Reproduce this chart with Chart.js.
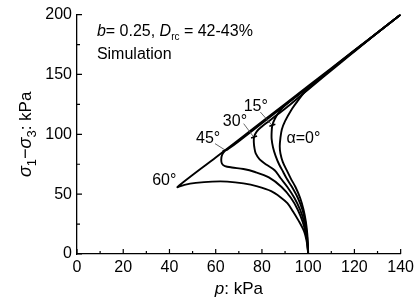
<!DOCTYPE html>
<html>
<head>
<meta charset="utf-8">
<script src="https://cdn.jsdelivr.net/npm/chart.js@4/dist/chart.umd.min.js"></script>
<style>
  html, body { margin: 0; padding: 0; background: #fff; }
  #caixa { width: 418px; height: 307px; }
</style>
</head>
<body>
<div id="caixa"><canvas id="grafico"></canvas></div>
<script>
// ticks dos eixos
const pTicks = [0, 20, 40, 60, 80, 100, 120, 140];
const pMinor = [10, 30, 50, 70, 90, 110, 130];
const qTicks = [0, 50, 100, 150, 200];
const qMinor = [25, 75, 125, 175];

// caminhos de tensão (p, q), um par de arrays por alpha
const p0 = [100, 99.9, 99.6, 99.0, 98.0, 96.5, 94.5, 92.5, 90.7, 89.0, 88.0, 87.7, 88.0, 88.6, 90.0, 92.9, 95.5, 98.6, 103, 108, 113, 126.5, 140];
const q0 = [0, 8, 17, 27, 37, 47, 56, 63, 70, 77, 84, 90, 97, 104, 111, 121, 128, 135.5, 143, 151, 159.3, 179.7, 200];

const p15 = [100, 99.8, 99.4, 98.7, 97.5, 95.5, 93.0, 90.7, 89.2, 87.4, 85.9, 84.8, 84.2, 84.2, 84.5, 85.6, 87.5, 90.5, 95.0, 100, 106, 113, 126.5, 140];
const q15 = [0, 8, 17, 27, 37, 47, 56, 63, 68.5, 75, 82, 89, 96, 102, 107.5, 113, 119, 125, 132, 139, 148.5, 159, 179.6, 200];

const p30 = [100, 99.7, 99.2, 98.2, 96.5, 94.0, 91.0, 88.0, 85.5, 82.0, 79.0, 77.3, 76.8, 76.5, 76.6, 77.8, 80.0, 83.0, 87.0, 92.0, 100, 113, 126.5, 140];
const q30 = [0, 8, 17, 27, 37, 47, 56, 63.5, 70, 74.5, 79, 84, 88, 93, 97.8, 102.5, 106.5, 111, 117, 124.5, 137.5, 158, 179.5, 200];

const p45 = [100, 99.7, 99.0, 97.6, 95.5, 92.5, 88.5, 83.0, 77.0, 72.0, 67.0, 64.0, 62.7, 62.4, 62.8, 64.0, 66.0, 70.0, 80.0, 100, 120, 140];
const q45 = [0, 8, 17, 27, 37, 47, 56, 64, 68.5, 71, 72.3, 73.5, 75.5, 79, 83, 86.2, 88.6, 94.3, 109.3, 139.3, 169.5, 200];

const p60 = [100, 99.5, 98.2, 95.7, 93.3, 91.0, 88.0, 84.0, 78.0, 72.0, 65.0, 58.5, 51.4, 46.5, 43.5, 60, 80, 100, 120, 140];
const q60 = [0, 9, 19, 28.3, 36, 42.5, 47.5, 52.5, 56.5, 59, 60.5, 60.5, 59.4, 57.8, 56, 80.6, 110.4, 140.3, 170.2, 200];

const curvas = [[p0, q0], [p15, q15], [p30, q30], [p45, q45], [p60, q60]];

const fonte = 'Liberation Sans, Arial, sans-serif';

function juntar(ps, qs) {
  return ps.map((p, i) => ({ x: p, y: qs[i] }));
}

// escreve texto com partes em estilos diferentes (itálico, subscrito)
function textoMisto(ctx, partes, x, y) {
  let cx = x;
  partes.forEach(pt => {
    ctx.font = pt.f;
    ctx.fillText(pt.t, cx, y + (pt.dy || 0));
    cx += ctx.measureText(pt.t).width;
  });
  return cx - x;
}
function larguraMista(ctx, partes) {
  let w = 0;
  partes.forEach(pt => { ctx.font = pt.f; w += ctx.measureText(pt.t).width; });
  return w;
}

const extras = {
  id: 'extras',
  afterDraw(chart) {
    const ctx = chart.ctx;
    const sx = chart.scales.x, sy = chart.scales.y;
    const a = chart.chartArea;
    const X = v => sx.getPixelForValue(v);
    const Y = v => sy.getPixelForValue(v);
    ctx.save();
    ctx.strokeStyle = '#000';
    ctx.fillStyle = '#000';

    // ticks para dentro
    ctx.lineWidth = 1.2;
    ctx.beginPath();
    pTicks.forEach(v => { ctx.moveTo(X(v), a.bottom); ctx.lineTo(X(v), a.bottom - 5); });
    pMinor.forEach(v => { ctx.moveTo(X(v), a.bottom); ctx.lineTo(X(v), a.bottom - 3); });
    qTicks.forEach(v => { ctx.moveTo(a.left, Y(v)); ctx.lineTo(a.left + 5, Y(v)); });
    qMinor.forEach(v => { ctx.moveTo(a.left, Y(v)); ctx.lineTo(a.left + 3, Y(v)); });
    ctx.stroke();

    // titulo do eixo x
    ctx.textBaseline = 'alphabetic';
    const tx = [
      { t: 'p', f: 'italic 17px ' + fonte },
      { t: ': kPa', f: '17px ' + fonte }
    ];
    const wx = larguraMista(ctx, tx);
    textoMisto(ctx, tx, (a.left + a.right) / 2 - wx / 2, 294);

    // titulo do eixo y (girado)
    const ty = [
      { t: 'σ', f: 'italic 18px ' + fonte },
      { t: '1', f: '13px ' + fonte, dy: 5 },
      { t: '−', f: '18px ' + fonte },
      { t: 'σ', f: 'italic 18px ' + fonte },
      { t: '3', f: '13px ' + fonte, dy: 5 },
      { t: ': kPa', f: '17px ' + fonte }
    ];
    const wy = larguraMista(ctx, ty);
    ctx.save();
    ctx.translate(31, (a.top + a.bottom) / 2);
    ctx.rotate(-Math.PI / 2);
    textoMisto(ctx, ty, -wy / 2, 0);
    ctx.restore();

    // anotação no canto
    textoMisto(ctx, [
      { t: 'b', f: 'italic 16px ' + fonte },
      { t: '= 0.25, ', f: '16px ' + fonte },
      { t: 'D', f: 'italic 16px ' + fonte },
      { t: 'rc', f: '10px ' + fonte, dy: 4 },
      { t: ' = 42-43%', f: '16px ' + fonte }
    ], X(8.6), Y(182.5));
    ctx.font = '16px ' + fonte;
    ctx.fillText('Simulation', X(8.6), Y(163));

    // rótulos dos ângulos
    ctx.font = '16px ' + fonte;
    ctx.fillText('60°', X(32.5), Y(57.5));
    ctx.fillText('45°', X(51.5), Y(92.5));
    ctx.fillText('30°', X(63.1), Y(107));
    ctx.fillText('15°', X(72.1), Y(119.5));
    ctx.fillText('α=0°', X(90.6), Y(92.5));

    // linhas de chamada
    ctx.strokeStyle = '#444';
    ctx.lineWidth = 0.8;
    ctx.beginPath();
    ctx.moveTo(X(59.7), Y(92.2)); ctx.lineTo(X(64.2), Y(86.7));
    ctx.moveTo(X(72.1), Y(108.9)); ctx.lineTo(X(76.4), Y(97.8));
    ctx.moveTo(X(79.3), Y(118.6)); ctx.lineTo(X(84.4), Y(107.5));
    ctx.stroke();

    // pequenas marcas sobre as curvas
    ctx.strokeStyle = '#000';
    ctx.lineWidth = 1.6;
    ctx.beginPath();
    [[64.2, 86.7], [76.6, 97.8], [84.5, 107.5]].forEach(([p, q]) => {
      ctx.moveTo(X(p) - 3, Y(q) + 1); ctx.lineTo(X(p) + 3, Y(q) - 1);
    });
    ctx.stroke();
    ctx.restore();
  }
};

const datasets = curvas.map(([ps, qs]) => ({
  data: juntar(ps, qs),
  borderColor: '#000',
  borderWidth: 1.9,
  pointRadius: 0,
  fill: false,
  showLine: true,
  tension: 0.3
}));

new Chart(document.getElementById('grafico'), {
  type: 'scatter',
  data: { datasets: datasets },
  options: {
    responsive: true,
    maintainAspectRatio: false,
    animation: false,
    layout: { padding: { top: 14, right: 15, left: 0, bottom: 0 } },
    plugins: { legend: { display: false }, tooltip: { enabled: false } },
    scales: {
      x: {
        type: 'linear', min: 0, max: 140,
        afterFit: s => { s.height = 53; },
        afterBuildTicks: s => { s.ticks = pTicks.map(v => ({ value: v })); },
        grid: { display: false, drawTicks: false },
        border: { display: true, color: '#000', width: 1.3 },
        ticks: { color: '#000', padding: 4, maxRotation: 0, font: { family: fonte, size: 16 } }
      },
      y: {
        type: 'linear', min: 0, max: 200,
        afterFit: s => { s.width = 77; },
        afterBuildTicks: s => { s.ticks = qTicks.map(v => ({ value: v })); },
        grid: { display: false, drawTicks: false },
        border: { display: true, color: '#000', width: 1.3 },
        ticks: { color: '#000', padding: 5, font: { family: fonte, size: 16 } }
      }
    }
  },
  plugins: [extras]
});
</script>
</body>
</html>
